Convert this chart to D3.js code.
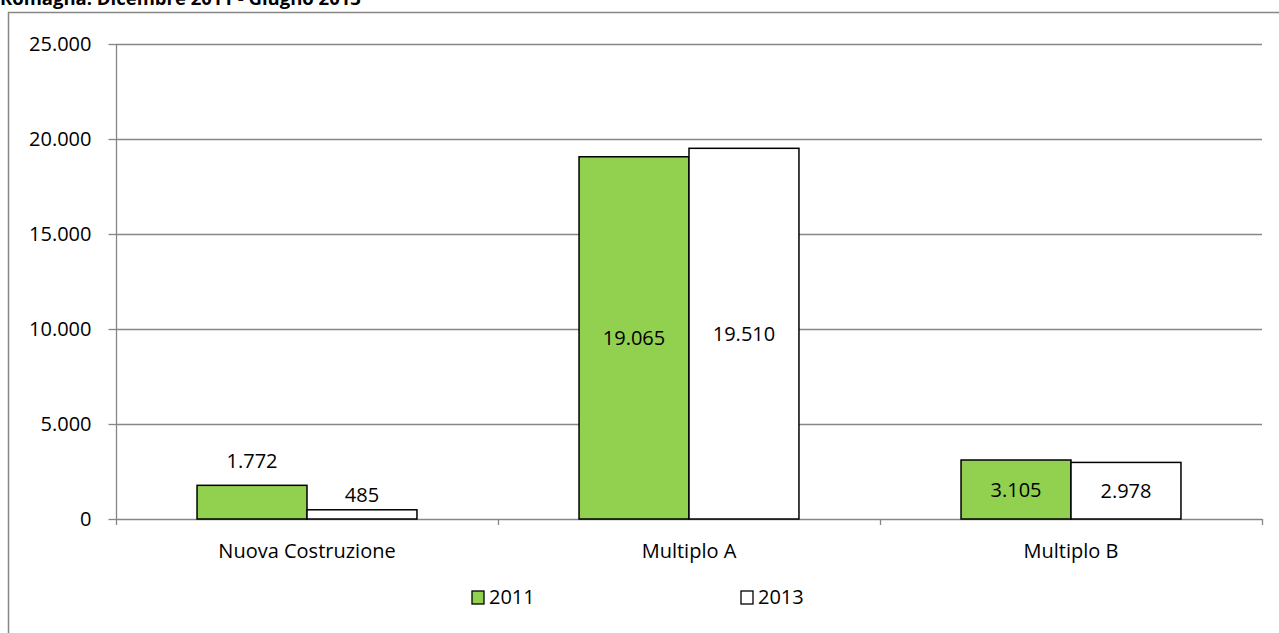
<!DOCTYPE html>
<html>
<head>
<meta charset="utf-8">
<script src="https://cdn.jsdelivr.net/npm/d3@7"></script>
<style>
  body { margin: 0; background: #fff; }
  text { font-family: "Open Sans", sans-serif; }
</style>
</head>
<body>
<svg id="chart"></svg>
<script>
let categories = ["Nuova Costruzione", "Multiplo A", "Multiplo B"];
let seriesNames = ["2011", "2013"];
let values2011 = [1772, 19065, 3105];
let values2013 = [485, 19510, 2978];
let yTicks = [0, 5000, 10000, 15000, 20000, 25000];
let title = "Romagna. Dicembre 2011 - Giugno 2013";

let colors = ["#92d050", "#ffffff"];
let fontSize = 20;

function createChart() {
    let w = 1279, h = 633;
    let svg = d3.select("#chart").attr("width", w).attr("height", h);

    let left = 116, right = 1262, top = 44, bottom = 519;

    // outer chart frame
    svg.append("path")
        .attr("d", `M8.5,${h} L8.5,12.5 L${w},12.5`)
        .attr("fill", "none").attr("stroke", "#868686").attr("stroke-width", 1.5);

    svg.append("text").attr("x", 0).attr("y", 5)
        .attr("font-size", 18.5).attr("font-weight", "bold").text(title);

    let x = d3.scaleBand().domain(categories).range([left, right]);
    let x1 = d3.scaleBand().domain(seriesNames).range([0, x.bandwidth()]).paddingInner(0).paddingOuter(0.737);
    let y = d3.scaleLinear().domain([0, 25000]).range([bottom, top]);

    let fmt = v => d3.format(",")(v).replace(/,/g, ".");

    // gridlines
    svg.append("g").selectAll("line").data(yTicks.filter(d => d > 0)).join("line")
        .attr("x1", left).attr("x2", right)
        .attr("y1", d => Math.round(y(d)) + 0.5).attr("y2", d => Math.round(y(d)) + 0.5)
        .attr("stroke", "#868686").attr("stroke-width", 1.3);

    let yAxis = svg.append("g").attr("transform", `translate(${left + 0.5},0)`)
        .call(d3.axisLeft(y).tickValues(yTicks).tickSize(8).tickPadding(17).tickFormat(fmt));
    yAxis.selectAll("line, path").attr("stroke", "#868686").attr("stroke-width", 1.3);
    yAxis.select(".domain").attr("d", `M0,${top} V${bottom}`);
    yAxis.selectAll("text").attr("font-size", fontSize).attr("fill", "#000")
        .style("font-family", "'Open Sans', sans-serif");

    let xAxis = svg.append("g").attr("transform", `translate(0,${bottom + 0.5})`)
        .call(d3.axisBottom(x).tickSize(0).tickPadding(24));
    xAxis.select(".domain").attr("stroke", "#868686").attr("stroke-width", 1.3).attr("d", `M${left},0 H${right}`);
    xAxis.selectAll("text").attr("font-size", fontSize).attr("fill", "#000")
        .style("font-family", "'Open Sans', sans-serif");
    // category separator ticks
    svg.append("g").selectAll("line").data(categories.concat(["end"])).join("line")
        .attr("x1", (d, i) => left + i * x.bandwidth() + 0.5)
        .attr("x2", (d, i) => left + i * x.bandwidth() + 0.5)
        .attr("y1", bottom).attr("y2", bottom + 6)
        .attr("stroke", "#868686").attr("stroke-width", 1.3);

    let rows = categories.map((c, i) => ({cat: c, vals: [values2011[i], values2013[i]]}));

    let groups = svg.append("g").selectAll("g").data(rows).join("g")
        .attr("transform", d => `translate(${x(d.cat)},0)`);

    groups.selectAll("rect").data(d => d.vals.map((v, i) => ({s: seriesNames[i], v: v, i: i}))).join("rect")
        .attr("x", d => x1(d.s))
        .attr("y", d => y(d.v))
        .attr("width", x1.bandwidth())
        .attr("height", d => bottom - y(d.v))
        .attr("fill", d => colors[d.i])
        .attr("stroke", "#000").attr("stroke-width", 1.5);

    groups.selectAll("text.lbl").data(d => d.vals.map((v, i) => ({s: seriesNames[i], v: v, i: i}))).join("text")
        .attr("class", "lbl")
        .attr("x", d => x1(d.s) + x1.bandwidth() / 2)
        .attr("y", d => {
            let hgt = bottom - y(d.v);
            if (hgt > 40) return y(d.v) + hgt / 2 + 7;
            return y(d.v) - (d.v > 1000 ? 17 : 8);
        })
        .attr("text-anchor", "middle").attr("font-size", fontSize).attr("fill", "#000")
        .text(d => fmt(d.v));

    // legend
    let legendX = [472, 741];
    let legend = svg.append("g").selectAll("g").data(seriesNames).join("g")
        .attr("transform", (d, i) => `translate(${legendX[i]},591)`);
    legend.append("rect").attr("width", 12).attr("height", 13)
        .attr("fill", (d, i) => colors[i]).attr("stroke", "#000").attr("stroke-width", 1.3);
    legend.append("text").attr("x", 17).attr("y", 13).attr("font-size", fontSize).text(d => d);
}

window.onload = function() {
    createChart();
}
</script>
</body>
</html>
